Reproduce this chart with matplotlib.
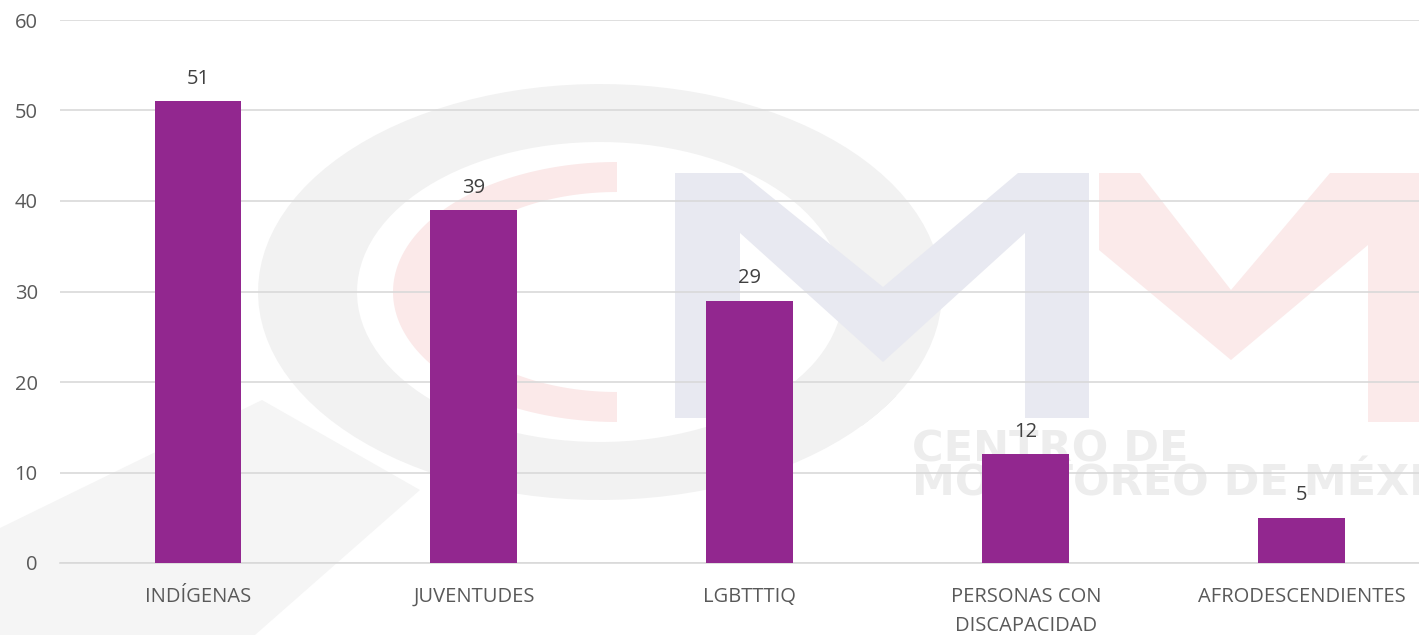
import matplotlib
matplotlib.use("Agg")
import matplotlib.pyplot as plt
from matplotlib.patches import Polygon
import numpy as np

categories = ["INDÍGENAS", "JUVENTUDES", "LGBTTTIQ", "PERSONAS CON\nDISCAPACIDAD", "AFRODESCENDIENTES"]
values = [51, 39, 29, 12, 5]
y_ticks = [0, 10, 20, 30, 40, 50, 60]

BAR = "#92278F"
GRID = "#D9D9D9"

plt.rcParams["font.family"] = ["Open Sans", "DejaVu Sans"]


def arc_band(cx, cy, r_out, r_in, a0, a1, n=120):
    # elliptical annulus segment, angles in degrees, y pointing down
    t = np.radians(np.linspace(a0, a1, n))
    outer = np.c_[cx + r_out[0] * np.cos(t), cy - r_out[1] * np.sin(t)]
    inner = np.c_[cx + r_in[0] * np.cos(t), cy - r_in[1] * np.sin(t)][::-1]
    return np.vstack([outer, inner])


W, H = 1419, 635
fig = plt.figure(figsize=(W / 100, H / 100), dpi=100)

# faint logo watermark behind the chart, in pixel coordinates
bg = fig.add_axes([0, 0, 1, 1], zorder=0)
bg.set_xlim(0, W)
bg.set_ylim(H, 0)
bg.axis("off")
bg.add_patch(Polygon([(0, 528), (262, 400), (420, 490), (255, 635), (0, 635)], color="#F5F5F5", lw=0))
bg.add_patch(Polygon(arc_band(600, 292, (342, 208), (243, 150), -40, 330), color="#F2F2F2", lw=0))
bg.add_patch(Polygon(arc_band(617, 292, (224, 130), (178, 100), 90, 270), color="#FBE9E9", lw=0))
blue_m = [(675, 418), (675, 173), (742, 173), (883, 287), (1018, 173), (1089, 173), (1089, 418),
          (1025, 418), (1025, 233), (883, 362), (740, 233), (740, 418)]
bg.add_patch(Polygon(blue_m, color="#E8E9F1", lw=0))
red_m = [(1099, 173), (1140, 173), (1231, 290), (1330, 173), (1419, 173), (1419, 422), (1368, 422),
         (1368, 245), (1231, 360), (1099, 250)]
bg.add_patch(Polygon(red_m, color="#FBEAEA", lw=0))
bg.text(912, 450, "CENTRO DE", color="#EDEDED", fontsize=31, fontweight="bold",
        family="DejaVu Sans", va="center", ha="left")
bg.text(912, 483, "MONITOREO DE MÉXICO", color="#EDEDED", fontsize=31, fontweight="bold",
        family="DejaVu Sans", va="center", ha="left")

ax = fig.add_axes([60 / W, 1 - 563 / H, 1 - 60 / W, (563 - 20) / H], zorder=1)
ax.patch.set_alpha(0)
x = np.arange(len(categories))
bars = ax.bar(x, values, width=0.315, color=BAR, zorder=3)
ax.bar_label(bars, labels=[str(v) for v in values], padding=9, fontsize=14.5, color="#404040")

ax.set_xlim(-0.5, 4.425)
ax.set_ylim(0, 60)
ax.set_yticks(y_ticks)
ax.set_xticks(x)
ax.set_xticklabels(categories, fontsize=14.5, color="#595959", linespacing=1.6)
ax.tick_params(axis="y", length=0, pad=16, labelsize=14.5, labelcolor="#595959")
ax.tick_params(axis="x", length=0, pad=17)
ax.yaxis.grid(True, color=GRID, linewidth=1.2, zorder=0)
for side in ["top", "right", "left"]:
    ax.spines[side].set_visible(False)
ax.spines["bottom"].set_color(GRID)
ax.spines["bottom"].set_linewidth(1.2)

fig.savefig("out.png", dpi=100)
plt.close(fig)
